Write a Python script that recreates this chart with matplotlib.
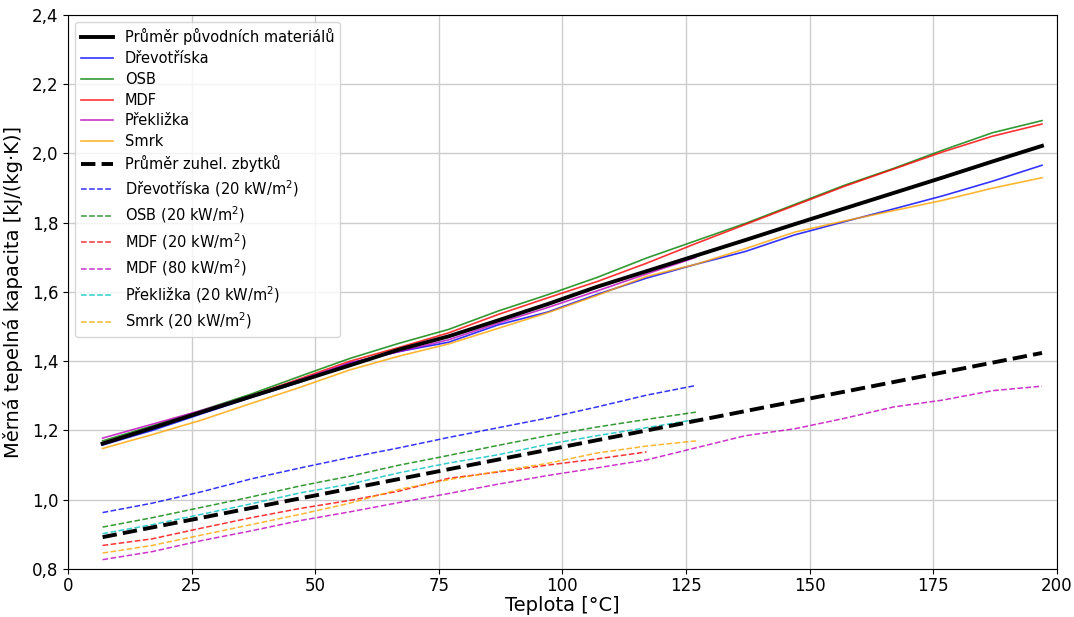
import numpy as np
import matplotlib
matplotlib.use('Agg')
import matplotlib.pyplot as plt
from matplotlib.ticker import FuncFormatter

# teplota [°C]
teplota = [7, 17, 27, 37, 47, 57, 67, 77, 87, 97, 107, 117, 127,
           137, 147, 157, 167, 177, 187, 197]

# puvodni materialy
drevotriska = [1.158, 1.200, 1.248, 1.295, 1.340, 1.395, 1.428, 1.455, 1.505, 1.542,
               1.593, 1.640, 1.680, 1.717, 1.765, 1.803, 1.840, 1.878, 1.920, 1.966]
osb = [1.170, 1.213, 1.258, 1.305, 1.357, 1.408, 1.452, 1.492, 1.545, 1.592,
       1.642, 1.698, 1.748, 1.798, 1.853, 1.908, 1.957, 2.010, 2.060, 2.095]
mdf = [1.165, 1.208, 1.255, 1.300, 1.350, 1.400, 1.440, 1.482, 1.535, 1.583,
       1.630, 1.683, 1.740, 1.795, 1.850, 1.905, 1.955, 2.005, 2.050, 2.085]
preklizka = [1.178, 1.218, 1.258, 1.300, 1.347, 1.395, 1.428, 1.462, 1.510, 1.555,
             1.603, 1.652, 1.700]
smrk = [1.148, 1.188, 1.230, 1.278, 1.325, 1.375, 1.415, 1.450, 1.495, 1.540,
        1.590, 1.645, 1.680, 1.725, 1.773, 1.805, 1.835, 1.865, 1.900, 1.930]
prumer_puv = [1.162, 1.207, 1.253, 1.298, 1.343, 1.388, 1.434, 1.472, 1.518, 1.565,
              1.615, 1.660, 1.705, 1.750, 1.796, 1.841, 1.886, 1.931, 1.977, 2.022]

# zuhelnatele zbytky
drevotriska_20 = [0.963, 0.990, 1.023, 1.060, 1.092, 1.122, 1.150, 1.180, 1.208, 1.236,
                  1.268, 1.302, 1.330]
osb_20 = [0.921, 0.948, 0.978, 1.008, 1.040, 1.068, 1.100, 1.128, 1.157, 1.185,
          1.210, 1.232, 1.253]
mdf_20 = [0.868, 0.887, 0.918, 0.948, 0.975, 0.998, 1.025, 1.062, 1.080, 1.100,
          1.118, 1.138]
mdf_80 = [0.827, 0.850, 0.882, 0.910, 0.940, 0.965, 0.992, 1.018, 1.045, 1.070,
          1.092, 1.115, 1.150, 1.185, 1.205, 1.235, 1.268, 1.288, 1.315, 1.328]
preklizka_20 = [0.902, 0.928, 0.958, 0.988, 1.020, 1.045, 1.078, 1.106, 1.130, 1.160,
                1.185, 1.208, 1.232]
smrk_20 = [0.846, 0.868, 0.898, 0.928, 0.958, 0.990, 1.030, 1.058, 1.082, 1.105,
           1.135, 1.155, 1.170]
prumer_zuh = [0.892, 0.920, 0.948, 0.976, 1.004, 1.032, 1.060, 1.088, 1.116, 1.144,
              1.172, 1.200, 1.228, 1.256, 1.284, 1.312, 1.340, 1.368, 1.396, 1.424]

fig = plt.figure(figsize=(10.74, 6.17), dpi=100)
ax = fig.add_axes([0.0633, 0.0778, 0.9207, 0.8979])

def n(arr):
    return teplota[:len(arr)]

ax.plot(teplota, prumer_puv, color='black', lw=2.8, label='Průměr původních materiálů', zorder=5)
ax.plot(n(drevotriska), drevotriska, color='blue', lw=1.2, alpha=0.8, label='Dřevotříska')
ax.plot(n(osb), osb, color='green', lw=1.2, alpha=0.8, label='OSB')
ax.plot(n(mdf), mdf, color='red', lw=1.2, alpha=0.8, label='MDF')
ax.plot(n(preklizka), preklizka, color='m', lw=1.2, alpha=0.8, label='Překližka')
ax.plot(n(smrk), smrk, color='orange', lw=1.2, alpha=0.8, label='Smrk')

ax.plot(teplota, prumer_zuh, color='black', lw=2.8, ls='--', label='Průměr zuhel. zbytků', zorder=5)
ax.plot(n(drevotriska_20), drevotriska_20, color='blue', lw=1.1, alpha=0.8, ls='--',
        label='Dřevotříska (20 kW/m$^2$)')
ax.plot(n(osb_20), osb_20, color='green', lw=1.1, alpha=0.8, ls='--', label='OSB (20 kW/m$^2$)')
ax.plot(n(mdf_20), mdf_20, color='red', lw=1.1, alpha=0.8, ls='--', label='MDF (20 kW/m$^2$)')
ax.plot(n(mdf_80), mdf_80, color='m', lw=1.1, alpha=0.8, ls='--', label='MDF (80 kW/m$^2$)')
ax.plot(n(preklizka_20), preklizka_20, color='c', lw=1.1, alpha=0.8, ls='--',
        label='Překližka (20 kW/m$^2$)')
ax.plot(n(smrk_20), smrk_20, color='orange', lw=1.1, alpha=0.8, ls='--', label='Smrk (20 kW/m$^2$)')

ax.set_xlim(0, 200)
ax.set_ylim(0.8, 2.4)
ax.set_xticks(np.arange(0, 201, 25))
ax.set_yticks(np.arange(0.8, 2.41, 0.2))
ax.yaxis.set_major_formatter(FuncFormatter(lambda v, p: f'{v:.1f}'.replace('.', ',')))
ax.tick_params(labelsize=12)
ax.tick_params(axis='x', pad=2)
ax.grid(True, color='#cccccc', lw=1)
ax.set_xlabel('Teplota [°C]', fontsize=14, labelpad=1)
ax.set_ylabel('Měrná tepelná kapacita [kJ/(kg·K)]', fontsize=14, labelpad=6)
ax.legend(loc='upper left', fontsize=10.5, handlelength=2.2, labelspacing=0.4)

fig.savefig('out.png', dpi=100)
